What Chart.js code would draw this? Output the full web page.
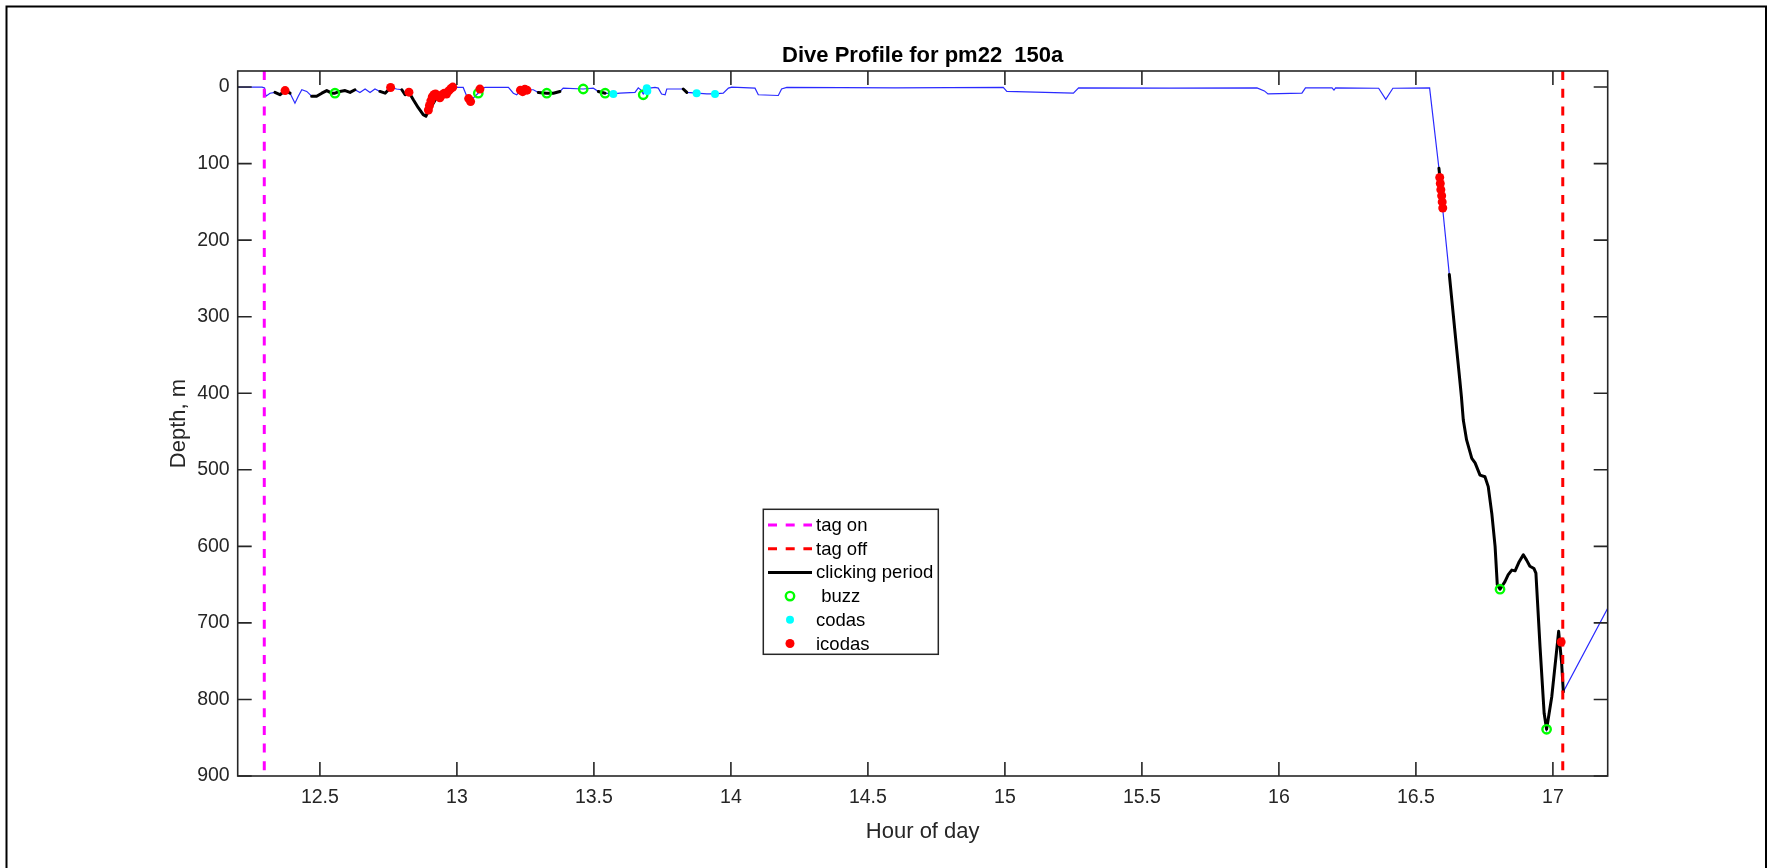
<!DOCTYPE html>
<html><head><meta charset="utf-8">
<script src="https://cdn.jsdelivr.net/npm/chart.js@4.4.1/dist/chart.umd.min.js"></script>
<style>html,body{margin:0;padding:0;background:#fff;overflow:hidden}canvas{display:block}</style>
</head><body>
<canvas id="c" width="1773" height="868"></canvas>
<script>
// ---------------- data ----------------
const traceHours = [12.200,12.289,12.298,12.303,12.318,12.336,12.354,12.373,12.391,12.409,12.421,12.434,12.452,12.470,12.488,12.507,12.525,12.543,12.555,12.573,12.592,12.610,12.628,12.646,12.665,12.683,12.701,12.719,12.738,12.758,12.780,12.799,12.811,12.825,12.841,12.859,12.877,12.887,12.896,12.914,12.932,12.950,12.969,12.987,13.005,13.023,13.036,13.048,13.066,13.078,13.084,13.103,13.188,13.206,13.218,13.237,13.261,13.279,13.297,13.328,13.352,13.376,13.388,13.461,13.498,13.516,13.541,13.571,13.595,13.650,13.662,13.672,13.680,13.690,13.723,13.735,13.747,13.760,13.766,13.826,13.839,13.875,13.912,13.942,13.972,13.991,14.003,14.088,14.100,14.173,14.185,14.204,14.600,14.994,15.007,15.250,15.269,15.600,15.920,15.947,15.960,16.084,16.097,16.194,16.201,16.207,16.364,16.390,16.416,16.550,16.584,16.591,16.598,16.622,16.649,16.660,16.666,16.673,16.685,16.704,16.716,16.734,16.752,16.764,16.777,16.789,16.797,16.807,16.825,16.837,16.850,16.862,16.877,16.892,16.904,16.916,16.931,16.938,16.953,16.968,16.977,16.996,17.021,17.032,17.038,17.200];
const traceDepths = [0,0,1,12,8,7,10,4.6,8,21,12,3.5,5.7,12,12,8,4.6,8,8,5.7,4.6,7,3.5,7,2.5,7,2.5,5.7,8,0.5,2.5,3.5,10,6.6,16.5,27,36,38,31.5,21,10,8,5.7,0,0.5,0.5,12,19,12,8,2.5,0.5,0.5,8,10,3.5,3.5,3.5,7,8,8,5.7,1.4,2.5,1.4,5.7,8,9,8,7,1,4,9,2,0.5,1.4,9,10,2.5,2.5,7,8,9,9,8,1.4,0,1.4,10,11,2.5,0.5,1,0.5,5.7,8,1,1.5,1,5,9,8,1,1,4,1,1.5,16,1.5,1,106,130,160,245,343,382,404,435,461,485,491,507,509,522,557,600,650,656,646,637,631,632,620,611,618,626,629,635,731,818,839,796,711,753,790,681];

const clickStart = [12.336,12.470,12.543,12.573,12.719,12.799,13.297,13.516,13.826,16.584,16.622];
const clickEnd   = [12.391,12.525,12.555,12.628,12.758,12.987,13.376,13.541,13.839,16.591,17.038];

const buzzHours  = [12.555,13.078,13.328,13.461,13.541,13.680,16.807,16.977];
const buzzDepths = [8,8,8,2.5,8,10,656,839];

const codaHours  = [13.571,13.693,13.695,13.875,13.942];
const codaDepths = [9,1.5,5,8,9];

const icodaHours  = [12.373,12.758,12.825,12.896,12.900,12.905,12.910,12.916,12.922,12.930,12.938,12.946,12.954,12.962,12.970,12.978,12.985,13.043,13.050,13.084,13.232,13.240,13.248,13.256,16.587,16.589,16.591,16.594,16.596,16.598,17.030];
const icodaDepths = [4.6,0.5,6.6,30,24,18,13,10,9,12,14,10,8,9,5,2,0,15,19,2.6,4,6,3,4,118,126,134,142,150,158,725];

const tagOnHour  = [12.297];
const tagOffHour = [17.036];
const depthRange = [-21, 900];
const hourRange  = [12.2, 17.2];

const xTickValues = [12.5,13,13.5,14,14.5,15,15.5,16,16.5,17];
const xTickLabels = ['12.5','13','13.5','14','14.5','15','15.5','16','16.5','17'];
const yTickValues = [0,100,200,300,400,500,600,700,800,900];
const yTickLabels = ['0','100','200','300','400','500','600','700','800','900'];

const legendLabels = ['tag on','tag off','clicking period',' buzz','codas','icodas'];
const titleText = 'Dive Profile for pm22  150a';
const xTitle = 'Hour of day';
const yTitle = 'Depth, m';

// ------------- derived -------------
const pts = (xs, ys) => xs.map((x, i) => ({x, y: ys[i]}));
const inClick = h => clickStart.some((s, k) => h >= s - 1e-9 && h <= clickEnd[k] + 1e-9);
const tracePts = pts(traceHours, traceDepths);
const clickPts = traceHours.map((h, i) => ({x: h, y: inClick(h) ? traceDepths[i] : null}));
const vline = h => [{x: h, y: depthRange[0]}, {x: h, y: depthRange[1]}];

const FONT = '"Liberation Sans", Arial, Helvetica, sans-serif';
const AXC = '#262626';
Chart.defaults.font.family = FONT;

const bgPlugin = {
  id: 'bgFrame',
  beforeDraw(chart) {
    const c = chart.ctx;
    c.save();
    c.fillStyle = '#fff';
    c.fillRect(0, 0, chart.width, chart.height);
    c.strokeStyle = '#000';
    c.lineWidth = 2;
    c.strokeRect(6.5, 6.5, 1759.5, 900);
    c.restore();
  }
};

const boxPlugin = {
  id: 'axesBox',
  afterDatasetsDraw(chart) {
    const c = chart.ctx, a = chart.chartArea;
    const xs = chart.scales.x, ys = chart.scales.y;
    const tl = 14;
    c.save();
    c.strokeStyle = AXC;
    c.lineWidth = 1.6;
    c.beginPath();
    xTickValues.forEach(v => {
      const px = xs.getPixelForValue(v);
      c.moveTo(px, a.bottom); c.lineTo(px, a.bottom - tl);
      c.moveTo(px, a.top); c.lineTo(px, a.top + tl);
    });
    yTickValues.forEach(v => {
      const py = ys.getPixelForValue(v);
      c.moveTo(a.left, py); c.lineTo(a.left + tl, py);
      c.moveTo(a.right, py); c.lineTo(a.right - tl, py);
    });
    c.stroke();
    c.strokeRect(a.left, a.top, a.right - a.left, a.bottom - a.top);
    c.restore();
  }
};

const legendPlugin = {
  id: 'boxLegend',
  afterDraw(chart, args, o) {
    const c = chart.ctx;
    c.save();
    c.fillStyle = '#fff';
    c.fillRect(o.x, o.y, o.w, o.h);
    c.strokeStyle = AXC;
    c.lineWidth = 1.5;
    c.strokeRect(o.x, o.y, o.w, o.h);
    const items = chart.data.datasets.filter(d => d.legendRank !== undefined)
      .sort((p, q) => p.legendRank - q.legendRank);
    items.forEach((d, i) => {
      const ry = o.rowStart + i * o.rowStep;
      if (d.showLine) {
        c.beginPath();
        c.setLineDash(d.borderDash || []);
        c.strokeStyle = d.borderColor;
        c.lineWidth = d.borderWidth;
        c.moveTo(o.lineX0, ry); c.lineTo(o.lineX1, ry);
        c.stroke();
        c.setLineDash([]);
      } else {
        const cx = (o.lineX0 + o.lineX1) / 2;
        c.beginPath();
        c.arc(cx, ry, d.pointRadius, 0, Math.PI * 2);
        if (d.pointBackgroundColor && d.pointBackgroundColor !== 'rgba(0,0,0,0)') {
          c.fillStyle = d.pointBackgroundColor; c.fill();
        }
        if (d.pointBorderWidth) {
          c.strokeStyle = d.pointBorderColor; c.lineWidth = d.pointBorderWidth; c.stroke();
        }
      }
      c.fillStyle = '#000';
      c.font = o.font;
      c.textAlign = 'left';
      c.textBaseline = 'middle';
      c.fillText(d.label, o.textX, ry + 1);
    });
    c.restore();
  }
};

new Chart(document.getElementById('c'), {
  type: 'scatter',
  data: {
    datasets: [
      {label: 'depth', data: tracePts, showLine: true, borderColor: '#2a2aff', borderWidth: 1.2, pointRadius: 0, order: 7},
      {label: legendLabels[2], legendRank: 2, data: clickPts, showLine: true, spanGaps: false, borderColor: '#000', borderWidth: 3, pointRadius: 0, order: 6, borderCapStyle: 'round', borderJoinStyle: 'round'},
      {label: legendLabels[0], legendRank: 0, data: vline(tagOnHour[0]), showLine: true, borderColor: '#ff00ff', borderWidth: 3, borderDash: [9, 8.7], pointRadius: 0, order: 5},
      {label: legendLabels[1], legendRank: 1, data: vline(tagOffHour[0]), showLine: true, borderColor: '#ff0000', borderWidth: 3, borderDash: [9, 8.7], pointRadius: 0, order: 5},
      {label: legendLabels[3], legendRank: 3, data: pts(buzzHours, buzzDepths), showLine: false, pointRadius: 4.2, pointBorderWidth: 2.4, pointBorderColor: '#00ff00', pointBackgroundColor: 'rgba(0,0,0,0)', order: 3},
      {label: legendLabels[4], legendRank: 4, data: pts(codaHours, codaDepths), showLine: false, pointRadius: 4, pointBorderWidth: 0, pointBorderColor: '#00ffff', pointBackgroundColor: '#00ffff', order: 2},
      {label: legendLabels[5], legendRank: 5, data: pts(icodaHours, icodaDepths), showLine: false, pointRadius: 4.5, pointBorderWidth: 0, pointBorderColor: '#ff0000', pointBackgroundColor: '#ff0000', order: 1}
    ]
  },
  options: {
    responsive: false,
    animation: false,
    devicePixelRatio: 1,
    events: [],
    layout: {padding: {left: 0, right: 165.3, top: 0, bottom: 0}},
    plugins: {
      legend: {display: false},
      tooltip: {enabled: false},
      title: {display: true, text: titleText, color: '#000', fullSize: false,
              font: {size: 22, weight: 'bold', family: FONT, lineHeight: 1}, padding: {top: 45, bottom: 4}},
      boxLegend: {x: 763.3, y: 509.3, w: 175, h: 145, rowStart: 525, rowStep: 23.7,
                  lineX0: 768, lineX1: 812, textX: 816, font: '18.5px ' + FONT}
    },
    scales: {
      x: {
        type: 'linear', position: 'bottom', min: hourRange[0], max: hourRange[1],
        grid: {display: false, drawTicks: false}, border: {display: false},
        afterBuildTicks: s => { s.ticks = xTickValues.map(v => ({value: v})); },
        afterFit: s => { s.height = 92; },
        ticks: {autoSkip: false, maxRotation: 0, padding: 10, color: AXC,
                font: {size: 19.5, family: FONT}, callback: (v, i) => xTickLabels[i]},
        title: {display: true, text: xTitle, color: AXC, font: {size: 22, family: FONT}, padding: {top: 0, bottom: 23}}
      },
      y: {
        type: 'linear', position: 'left', reverse: true, min: depthRange[0], max: depthRange[1],
        grid: {display: false, drawTicks: false}, border: {display: false},
        afterBuildTicks: s => { s.ticks = yTickValues.map(v => ({value: v})); },
        afterFit: s => { s.width = 237.7; },
        ticks: {autoSkip: false, padding: 8, color: AXC,
                font: {size: 19.5, family: FONT}, callback: (v, i) => yTickLabels[i]},
        title: {display: true, text: yTitle, color: AXC, font: {size: 22, family: FONT}, padding: {top: 165.4, bottom: 0}}
      }
    }
  },
  plugins: [bgPlugin, boxPlugin, legendPlugin]
});
</script>
</body></html>
